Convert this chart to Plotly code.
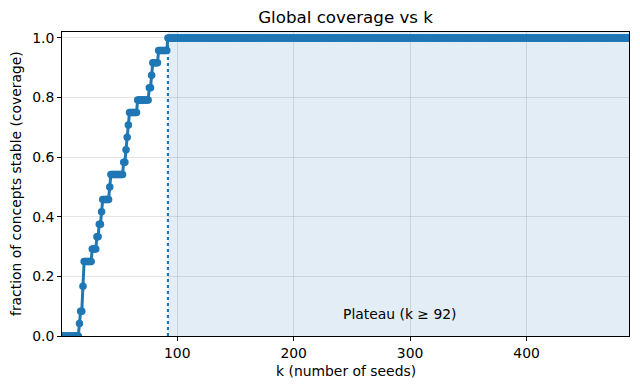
import plotly.graph_objects as go

N_CONCEPTS = 24
K_MAX = 488
PLATEAU_K = 92

# stable concept counts for k = 1 .. 91
stable_before_plateau = [
    0, 0, 0, 0, 0, 0, 0, 0, 0, 0,
    0, 0, 0, 0, 0, 1, 2, 2, 4, 6,
    6, 6, 6, 6, 6, 6, 7, 7, 7, 7,
    8, 8, 9, 9, 10, 11, 11, 11, 11, 11,
    11, 12, 13, 13, 13, 13, 13, 13, 13, 13,
    13, 13, 13, 14, 14, 15, 16, 17, 18, 18,
    18, 18, 18, 18, 18, 19, 19, 19, 19, 19,
    19, 19, 19, 19, 19, 20, 20, 21, 22, 22,
    22, 22, 22, 23, 23, 23, 23, 23, 23, 23,
    23,
]
# every k from the plateau on has all concepts stable
stable_plateau = [N_CONCEPTS] * (K_MAX - PLATEAU_K + 1)

stable_counts = stable_before_plateau + stable_plateau
k_values = list(range(1, len(stable_counts) + 1))
coverage = [c / N_CONCEPTS for c in stable_counts]

BLUE = "#1f77b4"
FONT = "DejaVu Sans"
label_font = dict(size=13.9, color="black", family=FONT)

fig = go.Figure()
fig.add_vrect(
    x0=PLATEAU_K, x1=K_MAX,
    fillcolor=BLUE, opacity=0.13, line_width=0, layer="below",
)
fig.add_trace(
    go.Scatter(
        x=k_values,
        y=coverage,
        mode="lines+markers",
        line=dict(color=BLUE, width=3),
        marker=dict(color=BLUE, size=7.5),
        showlegend=False,
    )
)
fig.add_shape(
    type="line", xref="x", yref="y",
    x0=PLATEAU_K, x1=PLATEAU_K, y0=0, y1=1.0,
    line=dict(color=BLUE, width=2.2, dash="dot"),
)
fig.add_annotation(
    x=241, y=0.074, xref="x", yref="y",
    text=f"Plateau (k ≥ {PLATEAU_K})",
    showarrow=False, xanchor="left", yanchor="middle",
    font=label_font,
)
# axis titles placed by hand, matplotlib style
fig.add_annotation(
    x=0.5, y=0, xref="paper", yref="paper", yshift=-35,
    text="k (number of seeds)", showarrow=False,
    xanchor="center", yanchor="middle", font=label_font,
)
fig.add_annotation(
    x=0, y=0.5, xref="paper", yref="paper", xshift=-46,
    text="fraction of concepts stable (coverage)", showarrow=False, textangle=-90,
    xanchor="center", yanchor="middle", font=label_font,
)

axis_style = dict(
    showline=True, mirror=True, linecolor="black", linewidth=1,
    ticks="outside", ticklen=4, tickcolor="black",
    showgrid=True, gridcolor="rgba(0,0,0,0.1)", gridwidth=1,
    zeroline=False, tickfont=label_font, automargin=False,
)
fig.update_xaxes(range=[1, K_MAX], tickvals=[100, 200, 300, 400], **axis_style)
fig.update_yaxes(
    range=[0, 1.02], tickvals=[0, 0.2, 0.4, 0.6, 0.8, 1.0], tickformat=".1f",
    **axis_style,
)
fig.update_layout(
    width=640, height=390,
    title=dict(text="Global coverage vs k", x=0.54, xanchor="center",
               yref="container", y=1 - 17 / 390, yanchor="middle",
               font=dict(size=16.7, color="black", family=FONT)),
    margin=dict(l=62, r=11, t=32, b=54),
    plot_bgcolor="white", paper_bgcolor="white",
    font=dict(family=FONT, color="black"),
)
fig.write_html(
    "out.html",
    config={"displayModeBar": False},
    post_script="document.body.style.margin='0';",
)
